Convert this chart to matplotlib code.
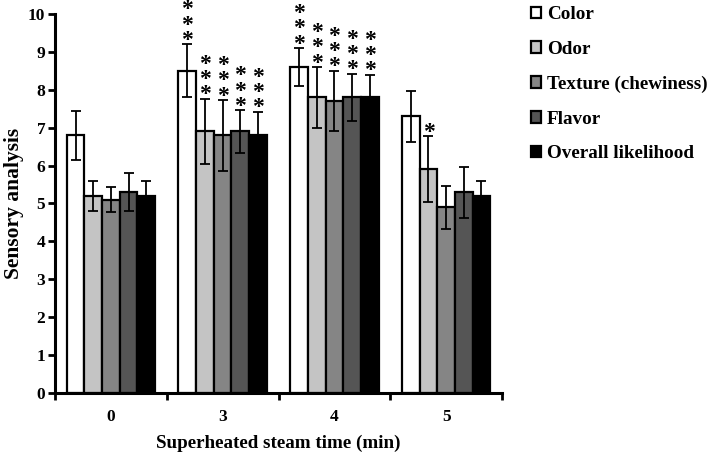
import matplotlib
matplotlib.use("Agg")
import matplotlib.pyplot as plt
import numpy as np

plt.rcParams['font.family'] = ['Liberation Serif', 'DejaVu Serif']
plt.rcParams['font.weight'] = 'bold'

groups = ["0", "3", "4", "5"]
series = ["Color", "Odor", "Texture (chewiness)", "Flavor", "Overall likelihood"]
colors = ["#ffffff", "#c4c4c4", "#858585", "#555555", "#000000"]

values = [
    [6.8, 8.5, 8.6, 7.3],   # Color
    [5.2, 6.9, 7.8, 5.9],   # Odor
    [5.1, 6.8, 7.7, 4.9],   # Texture
    [5.3, 6.9, 7.8, 5.3],   # Flavor
    [5.2, 6.8, 7.8, 5.2],   # Overall
]
errors = [
    [0.65, 0.7, 0.5, 0.67],
    [0.4, 0.87, 0.8, 0.87],
    [0.33, 0.93, 0.8, 0.57],
    [0.5, 0.56, 0.62, 0.67],
    [0.4, 0.62, 0.6, 0.4],
]
stars = [
    ["", "***", "***", ""],
    ["", "***", "***", "*"],
    ["", "***", "***", ""],
    ["", "***", "***", ""],
    ["", "***", "***", ""],
]

fig = plt.figure(figsize=(7.09, 4.53), dpi=100)
ax = fig.add_axes([55/709, (453-393)/453, (502-55)/709, (393-14)/453])

x = np.arange(len(groups))
w = 0.158
for i, s in enumerate(series):
    pos = x + (i - 2) * w
    ax.bar(pos, values[i], width=w, color=colors[i], edgecolor="black",
           linewidth=1.6, label=s, zorder=2)
    ax.errorbar(pos, values[i], yerr=errors[i], fmt="none", ecolor="black",
                elinewidth=1.3, capsize=3.5, capthick=1.3, zorder=3)
    for j in range(len(groups)):
        st = stars[i][j]
        if st:
            top = values[i][j] + errors[i][j]
            ax.annotate("\n".join(st), (pos[j], top), xytext=(0, -4.7),
                        textcoords="offset points", ha="center", va="bottom",
                        fontsize=17, fontweight="bold", linespacing=0.64,
                        multialignment="center", annotation_clip=False)

ax.set_xlim(-0.5, 3.5)
ax.set_ylim(0, 10)
ax.set_yticks(range(0, 11))
ax.set_xticks(x)
ax.set_xticklabels(groups)
ax.set_xticks(np.arange(-0.5, 3.6, 1.0), minor=True)
ax.tick_params(axis="x", which="major", length=0, pad=11.5, labelsize=12.5)
ax.tick_params(axis="x", which="minor", length=5, width=2, direction="out")
ax.tick_params(axis="y", length=5, width=2, direction="out", labelsize=12.5, pad=2)
for lab in ax.get_xticklabels() + ax.get_yticklabels():
    lab.set_fontweight("bold")
ax.spines["top"].set_visible(False)
ax.spines["right"].set_visible(False)
ax.spines["left"].set_linewidth(2.2)
ax.spines["bottom"].set_linewidth(2.2)

ax.set_xlabel("Superheated steam time (min)", fontsize=13.7, fontweight="bold", labelpad=7)
ax.set_ylabel("Sensory analysis", fontsize=15.5, fontweight="bold", labelpad=3)

leg = fig.legend(loc="upper left", bbox_to_anchor=(0.738, 1.003), frameon=False,
                 fontsize=13.8, handlelength=0.55, handleheight=0.55, handletextpad=0.3,
                 labelspacing=0.92, borderaxespad=0)
for t in leg.get_texts():
    t.set_fontweight("bold")
for h in leg.legend_handles:
    h.set_linewidth(1.6)

fig.savefig("out.png", dpi=100)
